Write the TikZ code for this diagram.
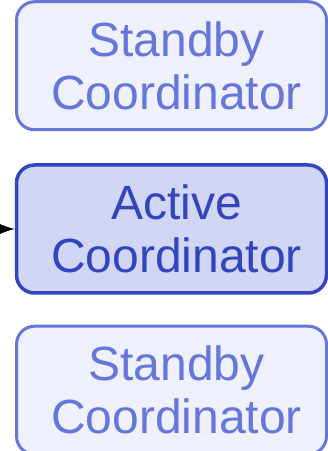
\documentclass[tikz,border=0pt]{standalone}
\usepackage{xcolor}
\usepackage{fontspec}
\setmainfont{Liberation Sans}
\usetikzlibrary{positioning,arrows.meta}
\definecolor{StandbyBlue}{HTML}{6676D9}
\definecolor{StandbyFill}{HTML}{EEF0FB}
\definecolor{ActiveBlue}{HTML}{3245BC}
\definecolor{ActiveFill}{HTML}{D0D6F4}

\tikzset{
  coordbox/.style={rounded corners=18pt, minimum width=310pt, minimum height=128pt,
                   inner sep=0pt},
  boxlabel/.style={align=center, font=\fontsize{48}{53}\selectfont, inner sep=0pt,
                   xshift=5pt},
  standbybox/.style={coordbox, fill=StandbyFill, draw=StandbyBlue, line width=3pt},
  activebox/.style={coordbox, fill=ActiveFill, draw=ActiveBlue, line width=3.5pt}
}

\begin{document}
\begin{tikzpicture}[x=1pt,y=1pt]
  \useasboundingbox (0,0) rectangle (328,451);

  \node[activebox, label={[boxlabel, text=ActiveBlue]center:{Active\\Coordinator}}]
    (active) at (171.5,222) {};
  \node[standbybox, above=34pt of active, yshift=-2pt,
        label={[boxlabel, text=StandbyBlue]center:{Standby\\Coordinator}}] (standbyTop) {};
  \node[standbybox, below=30pt of active,
        label={[boxlabel, text=StandbyBlue]center:{Standby\\Coordinator}}] (standbyBottom) {};

  % incoming link from the left
  \coordinate (feed) at (-30,222);
  \draw[line width=1pt, -{Latex[length=17pt,width=12pt]}] (feed) -- (active.west);
\end{tikzpicture}
\end{document}
